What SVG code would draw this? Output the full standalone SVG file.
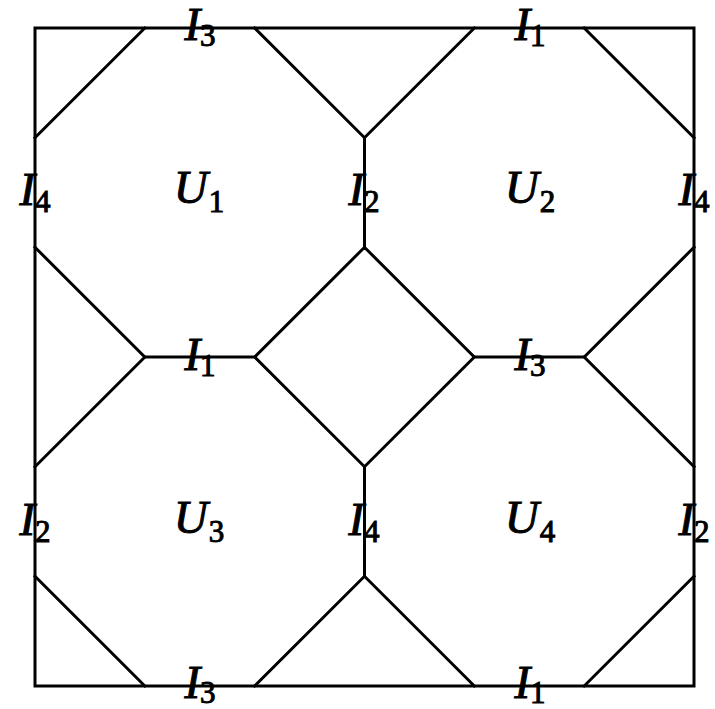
<svg xmlns="http://www.w3.org/2000/svg" width="715" height="709" viewBox="0 0 715 709">
<style>
.ln{fill:none;stroke:#000;stroke-width:3;stroke-linejoin:miter;stroke-linecap:square}
.lb{font-family:"Liberation Serif","DejaVu Serif",serif;font-style:italic;font-size:47px;fill:#000;stroke:#000;stroke-width:1;text-anchor:middle}
.sb{font-style:normal;font-size:31px}
</style>
<rect width="715" height="709" fill="#fff"/>
<g id="connectors" class="ln">
<rect x="35" y="28" width="659" height="658"/>
<path d="M144.8,28 L35,137.7"/>
<path d="M254.7,28 L364.5,137.7 L474.3,28"/>
<path d="M584.2,28 L694,137.7"/>
<path d="M364.5,137.7 V247.3"/>
<path d="M35,247.3 L144.8,357 H254.7 L364.5,247.3 L474.3,357 H584.2 L694,247.3"/>
<path d="M35,466.7 L144.8,357"/>
<path d="M254.7,357 L364.5,466.7 L474.3,357"/>
<path d="M584.2,357 L694,466.7"/>
<path d="M364.5,466.7 V576.3"/>
<path d="M35,576.3 L144.8,686"/>
<path d="M254.7,686 L364.5,576.3 L474.3,686"/>
<path d="M584.2,686 L694,576.3"/>
</g>
<g id="U1"><text class="lb" x="199" y="203">U<tspan class="sb" dx="1" dy="9">1</tspan></text></g>
<g id="U2"><text class="lb" x="530" y="203">U<tspan class="sb" dx="1" dy="9">2</tspan></text></g>
<g id="U3"><text class="lb" x="199" y="533">U<tspan class="sb" dx="1" dy="9">3</tspan></text></g>
<g id="U4"><text class="lb" x="530" y="533">U<tspan class="sb" dx="1" dy="9">4</tspan></text></g>
<g id="labels">
<text class="lb" x="200" y="40">I<tspan class="sb" dx="0" dy="6">3</tspan></text>
<text class="lb" x="530" y="40">I<tspan class="sb" dx="0" dy="6">1</tspan></text>
<text class="lb" x="35" y="205">I<tspan class="sb" dx="0" dy="7">4</tspan></text>
<text class="lb" x="364" y="205">I<tspan class="sb" dx="0" dy="7">2</tspan></text>
<text class="lb" x="694" y="205">I<tspan class="sb" dx="0" dy="7">4</tspan></text>
<text class="lb" x="200" y="370">I<tspan class="sb" dx="0" dy="6">1</tspan></text>
<text class="lb" x="530" y="370">I<tspan class="sb" dx="0" dy="6">3</tspan></text>
<text class="lb" x="35" y="535">I<tspan class="sb" dx="0" dy="7">2</tspan></text>
<text class="lb" x="364" y="535">I<tspan class="sb" dx="0" dy="7">4</tspan></text>
<text class="lb" x="694" y="535">I<tspan class="sb" dx="0" dy="7">2</tspan></text>
<text class="lb" x="200" y="698">I<tspan class="sb" dx="0" dy="5">3</tspan></text>
<text class="lb" x="530" y="698">I<tspan class="sb" dx="0" dy="5">1</tspan></text>
</g>
</svg>
